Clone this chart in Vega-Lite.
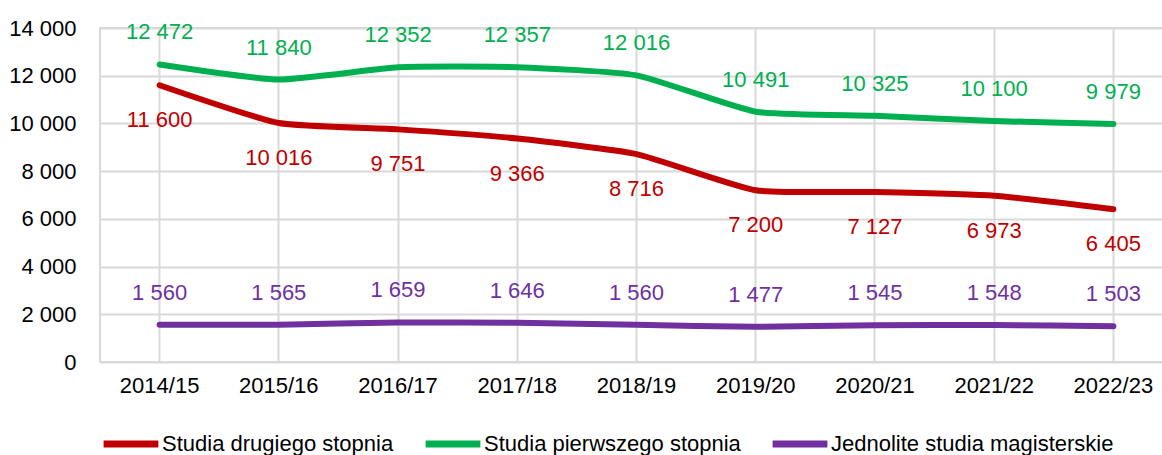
{
  "$schema": "https://vega.github.io/schema/vega-lite/v6.json",
  "autosize": "none",
  "width": 1073,
  "height": 334,
  "padding": {"left": 100, "top": 28, "right": 0, "bottom": 93},
  "background": "white",
  "config": {
    "locale": {"number": {"decimal": ",", "thousands": " ", "grouping": [3], "currency": ["", " zł"]}},
    "font": "Liberation Sans",
    "view": {"stroke": "#d9d9d9", "strokeWidth": 2}
  },
  "data": {
    "values": [
      {"rok": "2014/15", "seria": "Studia drugiego stopnia", "v": 11600},
      {"rok": "2015/16", "seria": "Studia drugiego stopnia", "v": 10016},
      {"rok": "2016/17", "seria": "Studia drugiego stopnia", "v": 9751},
      {"rok": "2017/18", "seria": "Studia drugiego stopnia", "v": 9366},
      {"rok": "2018/19", "seria": "Studia drugiego stopnia", "v": 8716},
      {"rok": "2019/20", "seria": "Studia drugiego stopnia", "v": 7200},
      {"rok": "2020/21", "seria": "Studia drugiego stopnia", "v": 7127},
      {"rok": "2021/22", "seria": "Studia drugiego stopnia", "v": 6973},
      {"rok": "2022/23", "seria": "Studia drugiego stopnia", "v": 6405},
      {"rok": "2014/15", "seria": "Studia pierwszego stopnia", "v": 12472},
      {"rok": "2015/16", "seria": "Studia pierwszego stopnia", "v": 11840},
      {"rok": "2016/17", "seria": "Studia pierwszego stopnia", "v": 12352},
      {"rok": "2017/18", "seria": "Studia pierwszego stopnia", "v": 12357},
      {"rok": "2018/19", "seria": "Studia pierwszego stopnia", "v": 12016},
      {"rok": "2019/20", "seria": "Studia pierwszego stopnia", "v": 10491},
      {"rok": "2020/21", "seria": "Studia pierwszego stopnia", "v": 10325},
      {"rok": "2021/22", "seria": "Studia pierwszego stopnia", "v": 10100},
      {"rok": "2022/23", "seria": "Studia pierwszego stopnia", "v": 9979},
      {"rok": "2014/15", "seria": "Jednolite studia magisterskie", "v": 1560},
      {"rok": "2015/16", "seria": "Jednolite studia magisterskie", "v": 1565},
      {"rok": "2016/17", "seria": "Jednolite studia magisterskie", "v": 1659},
      {"rok": "2017/18", "seria": "Jednolite studia magisterskie", "v": 1646},
      {"rok": "2018/19", "seria": "Jednolite studia magisterskie", "v": 1560},
      {"rok": "2019/20", "seria": "Jednolite studia magisterskie", "v": 1477},
      {"rok": "2020/21", "seria": "Jednolite studia magisterskie", "v": 1545},
      {"rok": "2021/22", "seria": "Jednolite studia magisterskie", "v": 1548},
      {"rok": "2022/23", "seria": "Jednolite studia magisterskie", "v": 1503}
    ]
  },
  "encoding": {
    "x": {
      "field": "rok", "type": "ordinal",
      "scale": {"type": "band", "paddingInner": 0, "paddingOuter": 0},
      "axis": {"title": null, "labelAngle": 0, "labelFontSize": 22, "labelColor": "black", "labelPadding": 13, "ticks": false, "domain": false, "grid": true, "gridColor": "#d9d9d9", "gridWidth": 2}
    },
    "y": {
      "field": "v", "type": "quantitative",
      "scale": {"domain": [0, 14000], "nice": false},
      "axis": {"title": null, "values": [0, 2000, 4000, 6000, 8000, 10000, 12000, 14000], "format": ",d", "labelFontSize": 22, "labelColor": "black", "labelPadding": 24, "ticks": false, "domain": false, "gridColor": "#d9d9d9", "gridWidth": 2}
    },
    "color": {
      "field": "seria", "type": "nominal",
      "scale": {
        "domain": ["Studia drugiego stopnia", "Studia pierwszego stopnia", "Jednolite studia magisterskie"],
        "range": ["#c00000", "#00b050", "#7030a0"]
      },
      "legend": {
        "title": null, "orient": "none", "legendX": 0, "legendY": 385,
        "direction": "horizontal", "columns": 3, "columnPadding": 17,
        "symbolType": "stroke", "symbolSize": 3000, "symbolStrokeWidth": 7,
        "labelFontSize": 22, "labelColor": "black", "labelOffset": 0, "labelLimit": 400
      }
    }
  },
  "layer": [
    {"mark": {"type": "line", "strokeWidth": 6, "interpolate": "cardinal", "tension": 0.5, "strokeCap": "round"}},
    {
      "transform": [{"filter": "datum.seria !== 'Studia drugiego stopnia'"}],
      "mark": {"type": "text", "fontSize": 22, "dy": -32},
      "encoding": {"text": {"field": "v", "type": "quantitative", "format": ",d"}}
    },
    {
      "transform": [{"filter": "datum.seria === 'Studia drugiego stopnia'"}],
      "mark": {"type": "text", "fontSize": 22, "dy": 35},
      "encoding": {"text": {"field": "v", "type": "quantitative", "format": ",d"}}
    }
  ]
}
